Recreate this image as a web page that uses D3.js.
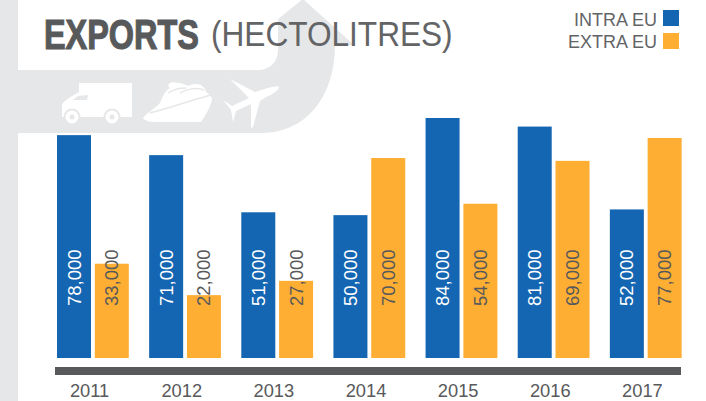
<!DOCTYPE html>
<html>
<head>
<meta charset="utf-8">
<script src="https://cdn.jsdelivr.net/npm/d3@7"></script>
<style>
html, body { margin: 0; padding: 0; background: #fff; }
svg { display: block; font-family: "Liberation Sans", sans-serif; }
</style>
</head>
<body>
<div id="chart"></div>
<script>
// Data
var years = ['2011', '2012', '2013', '2014', '2015', '2016', '2017']
var intraEu = [78000, 71000, 51000, 50000, 84000, 81000, 52000]
var extraEu = [33000, 22000, 27000, 70000, 54000, 69000, 77000]
var seriesNames = ['INTRA EU', 'EXTRA EU']

var blue = '#1466b2'
var orange = '#fdae33'
var grey = '#58595b'
var pale = '#e6e7e8'

var svg = d3.select('#chart').append('svg').attr('width', 706).attr('height', 401)

// background arrow
var bg = svg.append('g').attr('fill', pale)
bg.append('rect').attr('x', 0).attr('y', 0).attr('width', 18).attr('height', 401)
bg.append('path').attr('d', 'M18 70H258C270 70 278 62 278 50V19L303 -1L354 45H335C335 100 303 133 262 133H18Z')

// icons, white on the arrow
var icons = svg.append('g').attr('fill', '#fff')
// truck
icons.append('path').attr('d', 'M79 83H132V117H62V105C63 101 72 96 79 92Z')
icons.append('path').attr('d', 'M78 96L88 95L87 100H73Z').attr('fill', pale)
;[72, 112].forEach(function(cx){
  icons.append('circle').attr('cx', cx).attr('cy', 117).attr('r', 8.5).attr('fill', pale)
  icons.append('circle').attr('cx', cx).attr('cy', 117).attr('r', 6.5)
  icons.append('circle').attr('cx', cx).attr('cy', 117).attr('r', 2.5).attr('fill', pale)
})
// ship
icons.append('path').attr('d', 'M143 118C148 112 156 108 160 103C163 95 166 90 170 88C165 84 172 81 178 83C182 83 186 85 188 86C196 82 204 84 206 92C210 94 212 97 212 100C210 108 205 116 201 122L155 122C150 122 145 121 143 118Z')
var shipLines = svg.append('g').attr('fill', 'none').attr('stroke', pale).attr('stroke-width', 1.5)
shipLines.append('path').attr('d', 'M150 113C170 108 192 100 211 95')
shipLines.append('path').attr('d', 'M180 93C186 89 196 87 204 90')
shipLines.append('path').attr('d', 'M168 93C174 89 180 88 186 88')
// plane
icons.append('path').attr('d', 'M230 79L255 92L268 88Q278 85 279 87Q278 92 266 97L260 101L253 127L251 128L251 104L236 111L233 122L231 110L223 100L232 106L249 98Z')

// scales
var x = d3.scaleBand().domain(years).range([57, 702]).paddingInner(0).paddingOuter(0)
var y = d3.scaleLinear().domain([0, 84000]).range([358, 118])

var barW = 34
var gap = 37.8
var groups = [
  {name: seriesNames[0], values: intraEu, fill: blue, text: '#fff', dx: 0},
  {name: seriesNames[1], values: extraEu, fill: orange, text: grey, dx: gap}
]

groups.forEach(function(s){
  svg.append('g').selectAll('rect').data(s.values).join('rect')
    .attr('x', function(d, i){ return x(years[i]) + s.dx })
    .attr('y', function(d){ return y(d) })
    .attr('width', barW)
    .attr('height', function(d){ return y(0) - y(d) })
    .attr('fill', s.fill)
})
groups.forEach(function(s){
  svg.append('g').selectAll('text').data(s.values).join('text')
    .attr('transform', function(d, i){
      return 'translate(' + (x(years[i]) + s.dx + barW / 2 + 6.5) + ',306) rotate(-90)'
    })
    .attr('font-size', 18.5)
    .attr('fill', s.text)
    .text(d3.format(','))
})

// axis bar + year labels
svg.append('rect').attr('x', 55).attr('y', 367).attr('width', 626).attr('height', 8).attr('fill', grey)
var axis = svg.append('g').attr('transform', 'translate(-13.5,382)')
  .call(d3.axisBottom(x).tickSize(0).tickPadding(2))
axis.select('.domain').remove()
axis.selectAll('text').attr('font-size', 18.3).attr('font-family', '"Liberation Sans", sans-serif').attr('fill', grey)

// title, squeezed horizontally since there's no condensed face installed
svg.append('text').attr('transform', 'translate(44,49) scale(0.754,1)').attr('font-size', 43).attr('font-weight', 'bold')
  .attr('fill', grey).attr('stroke', grey).attr('stroke-width', 1.2).text('EXPORTS')
svg.append('text').attr('transform', 'translate(211,46) scale(0.903,1)').attr('font-size', 35)
  .attr('fill', '#636466').text('(HECTOLITRES)')

// legend
var legend = svg.append('g')
groups.forEach(function(s, i){
  var ly = 10 + i * 23
  legend.append('rect').attr('x', 663).attr('y', ly).attr('width', 16).attr('height', 16).attr('fill', s.fill)
  legend.append('text').attr('x', 657).attr('y', 26 + i * 22).attr('text-anchor', 'end')
    .attr('font-size', 18).attr('fill', '#636466').text(s.name)
})
</script>
</body>
</html>
